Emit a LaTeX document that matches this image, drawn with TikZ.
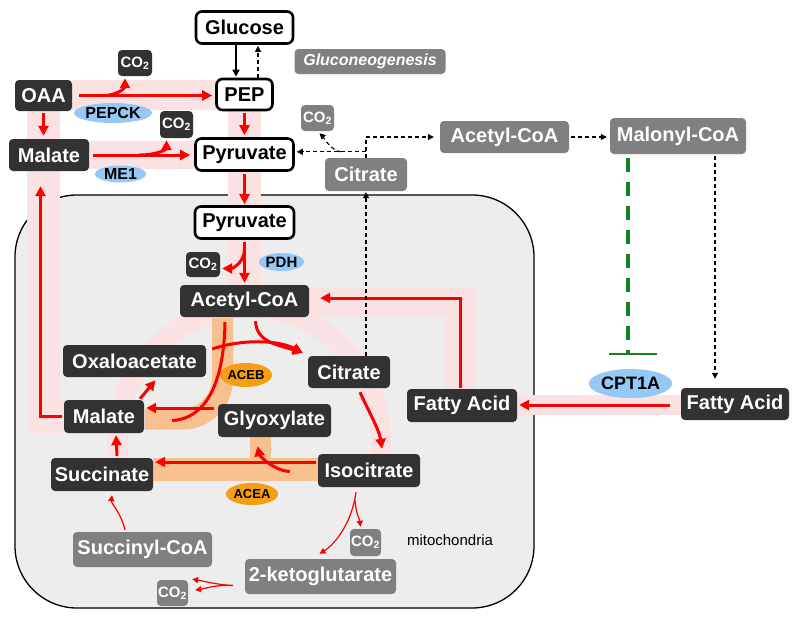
\documentclass[tikz,border=0pt]{standalone}
\usepackage{fontspec}
\setmainfont{Liberation Sans}
\usetikzlibrary{arrows.meta,calc,shapes.geometric}
\definecolor{dk}{RGB}{50,50,50}
\definecolor{gr}{RGB}{128,128,128}
\definecolor{pinkbase}{RGB}{250,226,226}
\definecolor{orband}{RGB}{249,192,143}
\definecolor{enzblue}{RGB}{150,200,245}
\definecolor{enzor}{RGB}{245,158,20}
\definecolor{mitofill}{RGB}{237,237,237}
\definecolor{inhgreen}{RGB}{20,130,30}
\definecolor{rd}{RGB}{250,0,0}
\newcommand{\myfs}[1]{\fontsize{#1}{#1}\selectfont}
\begin{document}
\begin{tikzpicture}[x=1pt,y=-1pt,
  basebox/.style={rounded corners=4pt, inner sep=0pt, font=\myfs{20}\bfseries, align=center},
  dkbox/.style={basebox, fill=dk, text=white},
  grbox/.style={basebox, fill=gr, text=white},
  wtbox/.style={basebox, fill=white, draw=black, line width=2.6pt, rounded corners=6pt, text=black},
  sz/.style 2 args={minimum width=#1pt, minimum height=#2pt},
  cofont/.style={font=\myfs{15}\bfseries},
  enz/.style={ellipse, inner sep=0pt, fill=enzblue, text=black, font=\myfs{16}\bfseries},
  enzo/.style={ellipse, inner sep=0pt, fill=enzor, text=black, font=\myfs{13}\bfseries},
  rarr/.style={draw=rd, line width=3pt, -{Triangle[length=10pt,width=10pt]}},
  rline/.style={draw=rd, line width=3pt},
  rthin/.style={draw=rd, line width=1.2pt, -{Triangle[length=6pt,width=6pt]}},
  dsh/.style={draw=black, line width=1.1pt, dash pattern=on 4pt off 3pt, -{Triangle[length=6pt,width=6pt]}},
  blk/.style={draw=black, line width=1.6pt, -{Triangle[length=7pt,width=7pt]}},
  grn/.style={draw=inhgreen, line width=4pt, dash pattern=on 14pt off 10pt},
  pband/.style={draw=pinkbase, line width=#1pt}
]
\useasboundingbox (0,0) rectangle (800,619);
% mitochondrion
\draw[fill=mitofill, line width=1.3pt, rounded corners=62pt] (15,195) rectangle (534,608);
% pink pathway bands
\draw[pband=30] (72,95) -- (216,95);
\draw[pband=28] (89,155) -- (195,155);
\draw[pband=33] (43.5,111) -- (43.5,416) -- (65,416);
\draw[pband=33] (244.5,111) -- (244.5,286);
\draw[pband=30] (309,302) -- (460,302) -- (460,390);
\draw[pband=20] (517,405) -- (682,405);
\draw[pband=20] plot[domain=165:375, samples=80] ({249+132*cos(\x)},{440+132*sin(\x)});
% orange glyoxylate shunt bands
\draw[draw=orband, line width=21pt, rounded corners=40pt] (222.5,318) -- (222.5,419) -- (145,419);
\fill[orband] (153,458) rectangle (318,481);
\fill[orband] (250,436) rectangle (271,459);

% nodes
\node[wtbox, sz={97}{32}] (glucose) at (244.5,27.5) {Glucose};
\node[grbox, sz={151}{25}, font=\myfs{16}\bfseries\itshape] (gluco) at (370,61.5) {Gluconeogenesis};
\node[dkbox, sz={57}{31}] (oaa) at (43.5,95.5) {OAA};
\node[dkbox, sz={34}{26}, cofont] (co2a) at (135,63) {CO\textsubscript{2}};
\node[wtbox, sz={56}{31}] (pep) at (244.5,94.5) {PEP};
\node[enz, sz={72}{20}] (pepck) at (113,113) {PEPCK};
\node[dkbox, sz={80}{32}] (mal1) at (49,155) {Malate};
\node[dkbox, sz={33}{27}, cofont] (co2b) at (176.5,124.5) {CO\textsubscript{2}};
\node[wtbox, sz={98}{32}] (pyr1) at (244.5,154.5) {Pyruvate};
\node[enz, sz={51}{17}] (me1) at (120.5,174) {ME1};
\node[grbox, sz={33}{26}, cofont] (co2c) at (317.5,118) {CO\textsubscript{2}};
\node[grbox, sz={129}{32}] (accoa1) at (504.5,137) {Acetyl-CoA};
\node[grbox, sz={136}{36}] (malonyl) at (678,136) {Malonyl-CoA};
\node[grbox, sz={82}{33}] (cit1) at (366,174.5) {Citrate};

\node[wtbox, sz={99}{32}] (pyr2) at (244.5,222.5) {Pyruvate};
\node[dkbox, sz={34}{25}, cofont] (co2d) at (203,264.5) {CO\textsubscript{2}};
\node[enz, sz={45}{18}, font=\myfs{15}\bfseries] (pdh) at (281.5,262) {PDH};
\node[dkbox, sz={129}{32}] (accoa2) at (244.5,301) {Acetyl-CoA};
\node[dkbox, sz={143}{32}] (oxalo) at (134.5,361) {Oxaloacetate};
\node[enzo, sz={50}{24}] (aceb) at (246,375) {ACEB};
\node[dkbox, sz={82}{32}] (cit2) at (349,372) {Citrate};
\node[dkbox, sz={80}{33}] (mal2) at (104,416.5) {Malate};
\node[dkbox, sz={113}{33}] (glyox) at (274.5,420.5) {Glyoxylate};
\node[dkbox, sz={110}{33}] (fain) at (462,405.5) {Fatty Acid};
\node[dkbox, sz={108}{32}] (faout) at (735,404) {Fatty Acid};
\node[enz, sz={69}{29}, font=\myfs{18}\bfseries] (cpt) at (630.5,383.5) {CPT1A};
\node[dkbox, sz={102}{33}] (succ) at (102,474.5) {Succinate};
\node[dkbox, sz={102}{33}] (isocit) at (369,470.5) {Isocitrate};
\node[enzo, sz={48}{22}] (acea) at (252,494) {ACEA};
\node[grbox, sz={139}{35}] (succcoa) at (142.5,549.5) {Succinyl-CoA};
\node[grbox, sz={31}{27}, cofont] (co2e) at (365.5,542.5) {CO\textsubscript{2}};
\node[grbox, sz={151}{35}] (kg) at (320.5,576.5) {2-ketoglutarate};
\node[grbox, sz={31}{26}, cofont] (co2f) at (172.5,593) {CO\textsubscript{2}};
\node[font=\myfs{15}] (mitolabel) at (450,540) {mitochondria};

% glucose / PEP
\draw[blk] ($(glucose.south)+(-8.5,0)$) -- ($(pep.north)+(-8.5,-1)$);
\draw[dsh] ($(pep.north)+(13.5,0)$) -- ($(glucose.south)+(13.5,1)$);

% OAA -> PEP (PEPCK)
\coordinate (b1) at ($(oaa.east)+(30,0)$);
\draw[rarr] ($(oaa.east)+(7,0)$) -- ($(oaa.east -| pep.west)+(-3,0)$);
\draw[rarr] (b1) .. controls ($(b1)+(18,0)$) and ($(co2a.south)+(-10,10)$) .. ($(co2a.south)+(-10,2)$);

% Malate -> Pyruvate (ME1)
\coordinate (b2) at ($(mal1.east)+(50,0)$);
\draw[rarr] ($(mal1.east)+(4,0)$) -- ($(mal1.east -| pyr1.west)+(-4,0)$);
\draw[rarr] (b2) .. controls ($(b2)+(20,0)$) and ($(co2b.south)+(-10,10)$) .. ($(co2b.south)+(-10,2)$);

% OAA -> Malate, PEP -> Pyruvate -> Pyruvate
\draw[rarr] ($(oaa.south)+(0,2)$) -- ($(mal1.north)+(-5.5,-3)$);
\draw[rarr] ($(pep.south)+(0,2)$) -- ($(pyr1.north)+(0,-2)$);
\draw[rarr] ($(pyr1.south)+(0,2)$) -- ($(pyr2.north)+(0,-1)$);

% mito malate -> cytosolic malate
\draw[rarr] ($(mal2.west)+(-2,0)$) -| ($(mal1.south)+(-8.5,15)$);

% Pyruvate -> Acetyl-CoA (PDH)
\coordinate (b3) at ($(pyr2.south)+(0,9)$);
\draw[rarr] ($(pyr2.south)+(0,2)$) -- ($(accoa2.north)+(0,-2)$);
\draw[rarr] (b3) .. controls ($(b3)+(0,14)$) and ($(co2d.east)+(12,4)$) .. ($(co2d.east)+(2,4)$);

% Fatty acid -> Acetyl-CoA
\draw[rarr] ($(fain.north)+(-2,-1)$) |- ($(accoa2.east)+(11,-3)$);

% Acetyl-CoA + Oxaloacetate -> Citrate
\coordinate (citin) at ($(cit2.north west)+(-5,-3)$);
\draw[rarr] ($(accoa2.south)+(11,4)$) .. controls ($(accoa2.south)+(12,25)$) and ($(citin)+(-25,-8)$) .. (citin);
\draw[rarr] ($(oxalo.east)+(6,-12)$) .. controls ($(oxalo.east)+(35,-22)$) and ($(citin)+(-25,-13)$) .. (citin);

% Acetyl-CoA -> Malate (ACEB)
\draw[rline] ($(accoa2.south)+(-19.5,5)$) .. controls ($(accoa2.south)+(-21,85)$) and ($(mal2.east)+(50,3)$) .. ($(mal2.east)+(28,4)$);
\draw[rarr] ($(glyox.west)+(-4,-12.5)$) -- ($(mal2.east)+(2,-8.5)$);

% Malate -> Oxaloacetate, Succinate -> Malate
\draw[rarr] ($(mal2.north)+(36,-1)$) -- ($(oxalo.south)+(21,3)$);
\draw[rarr] ($(succ.north)+(15,-2)$) -- ($(mal2.south)+(12,2)$);

% Citrate -> Isocitrate
\draw[rarr] ($(cit2.south)+(11,4)$) .. controls ($(cit2.south)+(18,20)$) and ($(isocit.north)+(10,-25)$) .. ($(isocit.north)+(13,-5)$);

% Isocitrate -> Succinate + Glyoxylate (ACEA)
\draw[rarr] ($(isocit.west)+(-2,-8.5)$) -- ($(succ.east)+(2,-12.5)$);
\draw[rarr] ($(isocit.west)+(-28,1)$) .. controls ($(isocit.west)+(-45,0)$) and ($(glyox.south)+(-15,18)$) .. ($(glyox.south)+(-17,9)$);

% Isocitrate -> 2-ketoglutarate + CO2
\coordinate (b4) at ($(isocit.south)+(-14,13)$);
\draw[rthin] ($(isocit.south)+(-13,5)$) .. controls ($(isocit.south)+(-17,35)$) and ($(kg.north)+(15,-15)$) .. ($(kg.north)+(-1,-5)$);
\draw[rthin] (b4) .. controls ($(b4)+(1,14)$) and ($(co2e.north)+(-6,-10)$) .. ($(co2e.north)+(-5,-2)$);

% 2-ketoglutarate -> Succinyl-CoA + CO2
\coordinate (b5) at ($(kg.west)+(-12,9)$);
\draw[rthin] (b5) .. controls ($(b5)+(-18,-1)$) and ($(succcoa.south east)+(-7,14)$) .. ($(succcoa.south east)+(-20,12)$);
\draw[rthin] (b5) .. controls ($(b5)+(-18,-1)$) and ($(co2f.east)+(15,-4)$) .. ($(co2f.east)+(7,-3)$);

% Succinyl-CoA -> Succinate
\draw[rthin] ($(succcoa.north)+(-17.5,-2)$) .. controls ($(succcoa.north)+(-22,-20)$) and ($(succ.south)+(9,12)$) .. ($(succ.south)+(10,4)$);

% citrate export and cytosolic fate
\draw[dsh] ($(cit2.north)+(17,0)$) -- ($(cit1.south)+(0,1)$);
\draw[dsh] (cit1.north) |- ($(accoa1.west)+(-6,0)$);
\coordinate (b6) at ($(cit1.north)+(0,-6)$);
\draw[dsh] (b6) -- ($(b6 -| pyr1.east)+(2,0)$);
\draw[dsh] ($(b6)+(-25,0)$) .. controls ($(b6)+(-35,-1)$) and ($(co2c.south)+(5,5)$) .. ($(co2c.south)+(2,2)$);
\draw[dsh] ($(accoa1.east)+(2,0)$) -- ($(accoa1.east -| malonyl.west)+(-3,0)$);
\draw[dsh] ($(malonyl.south)+(37,2)$) -- ($(faout.north)+(-20,-9)$);

% inhibition of CPT1A by malonyl-CoA
\coordinate (inh) at ($(malonyl.south)+(-50,200)$);
\draw[grn] ($(malonyl.south)+(-50,4)$) -- (inh);
\draw[draw=inhgreen, line width=2.5pt] ($(inh)+(-19,0)$) -- ($(inh)+(29,0)$);

% fatty acid import
\draw[rarr] ($(faout.west)+(-11,1)$) -- ($(faout.west -| fain.east)+(2,1)$);
\end{tikzpicture}
\end{document}
